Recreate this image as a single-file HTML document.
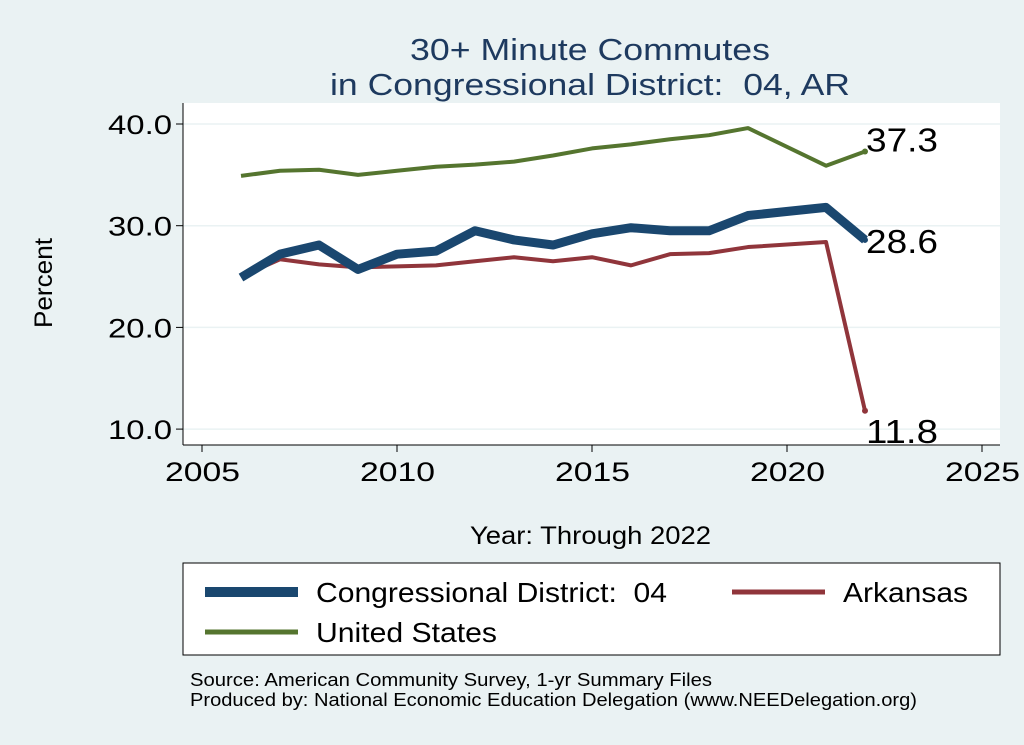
<!DOCTYPE html>
<html><head><meta charset="utf-8"><style>
body{margin:0;background:#eaf2f3;font-family:"Liberation Sans",sans-serif;}
svg{display:block}
text{white-space:pre}
</style></head><body>
<svg width="1024" height="745">
<rect x="0" y="0" width="1024" height="745" fill="#eaf2f3"/>
<text x="410" y="60" font-size="31" fill="#1e3a5f" textLength="360" lengthAdjust="spacingAndGlyphs">30+ Minute Commutes</text>
<text x="330" y="95" font-size="31" fill="#1e3a5f" textLength="520" lengthAdjust="spacingAndGlyphs" xml:space="preserve">in Congressional District:  04, AR</text>
<rect x="183" y="103" width="817" height="342" fill="#fff"/>
<g id="grid"></g>
<g id="axes"></g>
<g id="series"></g>
<text x="52" y="283" font-size="25" transform="rotate(-90 52 283)" text-anchor="middle" textLength="90" lengthAdjust="spacingAndGlyphs">Percent</text>
<text x="470" y="544" font-size="25" textLength="241" lengthAdjust="spacingAndGlyphs">Year: Through 2022</text>
<rect x="183" y="563" width="817" height="92" fill="#fff" stroke="#000" stroke-width="1"/>
<g><line x1="205" y1="592" x2="298" y2="592" stroke="#1a476f" stroke-width="10"/><text x="316" y="602" font-size="28" textLength="351" lengthAdjust="spacingAndGlyphs" xml:space="preserve">Congressional District:  04</text></g>
<g><line x1="732" y1="592" x2="825" y2="592" stroke="#90353b" stroke-width="5"/><text x="843" y="602" font-size="28" textLength="125" lengthAdjust="spacingAndGlyphs">Arkansas</text></g>
<g><line x1="205" y1="632" x2="298" y2="632" stroke="#55752f" stroke-width="5"/><text x="316" y="642" font-size="28" textLength="181" lengthAdjust="spacingAndGlyphs">United States</text></g>
<text x="190" y="686" font-size="18" textLength="522" lengthAdjust="spacingAndGlyphs">Source: American Community Survey, 1-yr Summary Files</text>
<text x="190" y="706" font-size="18" textLength="727" lengthAdjust="spacingAndGlyphs">Produced by: National Economic Education Delegation (www.NEEDelegation.org)</text>
</svg>
<script>
const years=[2006,2007,2008,2009,2010,2011,2012,2013,2014,2015,2016,2017,2018,2019,2021,2022];
const cdValues=[24.9,27.2,28.1,25.7,27.2,27.5,29.5,28.6,28.1,29.2,29.8,29.5,29.5,31.0,31.8,28.6];
const arValues=[25.0,26.7,26.2,25.9,26.0,26.1,26.5,26.9,26.5,26.9,26.1,27.2,27.3,27.9,28.4,11.8];
const usValues=[34.9,35.4,35.5,35.0,35.4,35.8,36.0,36.3,36.9,37.6,38.0,38.5,38.9,39.6,35.9,37.3];
const yTicks=[10,20,30,40];
const yTickLabels=["10.0","20.0","30.0","40.0"];
const xTicks=[2005,2010,2015,2020,2025];
const NS="http://www.w3.org/2000/svg";
const X=v=>202+(v-2005)*39;
const Y=v=>124+(40-v)*10.17;
function mk(tag,attrs,parent,text){const e=document.createElementNS(NS,tag);for(const k in attrs)e.setAttribute(k,attrs[k]);if(text!=null)e.textContent=text;parent.appendChild(e);return e;}
const grid=document.getElementById('grid'),axes=document.getElementById('axes'),ser=document.getElementById('series');
yTicks.forEach((t,i)=>{
 const g=mk('line',{x1:183,x2:1000,y1:Y(t),y2:Y(t),stroke:'#eaf2f3','stroke-width':1.5},grid);
 
 
 const tk=mk('line',{x1:176,x2:183,y1:Y(t),y2:Y(t),stroke:'#000'},axes);
 
 
 const l=mk('text',{x:108,y:Y(t)+10,'font-size':27,textLength:64,lengthAdjust:'spacingAndGlyphs'},axes,yTickLabels[i]);
 
 
});
const ya=mk('line',{x1:183,x2:183,y1:103,y2:445,stroke:'#000'},axes);


const xa=mk('line',{x1:183,x2:1000,y1:445,y2:445,stroke:'#000'},axes);


xTicks.forEach(t=>{
 const tk=mk('line',{x1:X(t),x2:X(t),y1:445,y2:452,stroke:'#000'},axes);
 
 
 const l=mk('text',{x:X(t)-37,y:481,'font-size':27,textLength:75,lengthAdjust:'spacingAndGlyphs'},axes,String(t));
 
 
});
function line(vals,color,w,name){
 const p=mk('polyline',{points:years.map((y,i)=>X(y)+','+Y(vals[i])).join(' '),fill:'none',stroke:color,'stroke-width':w,'stroke-linejoin':'round'},ser);
 
 
 const n=vals.length-1;
 const c=mk('circle',{cx:X(years[n]),cy:Y(vals[n]),r:3,fill:color},ser);
 
 
}
line(usValues,'#55752f',4,'us-line');
line(arValues,'#90353b',4,'arkansas-line');
line(cdValues,'#1a476f',9,'cd-line');
const n=years.length-1;
[[usValues,0],[cdValues,13],[arValues,32]].forEach(([v,dy])=>{
 const t=mk('text',{x:X(years[n])+1,y:Y(v[n])+dy,'font-size':33,textLength:72,lengthAdjust:'spacingAndGlyphs'},ser,v[n].toFixed(1));
 
 
});
</script>
</body></html>
